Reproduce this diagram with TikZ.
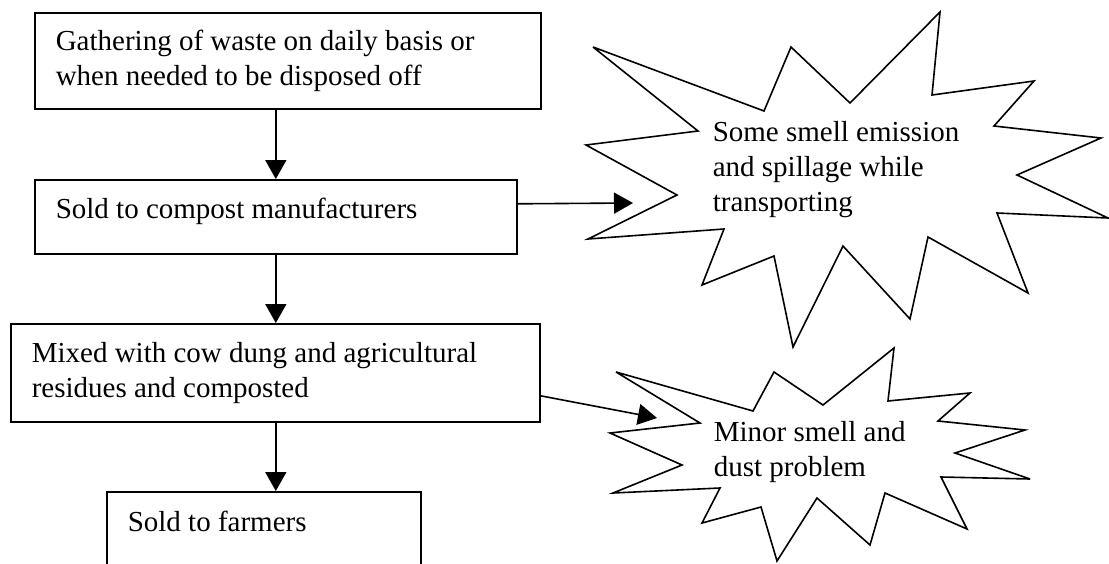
\documentclass[tikz,border=0pt]{standalone}
\usepackage{fontspec}
\setmainfont{Liberation Serif}
\usetikzlibrary{arrows.meta}
\begin{document}
\begin{tikzpicture}[x=1pt,y=-1pt,line width=1.6pt,
  txt/.style={font=\fontsize{29}{35}\selectfont},
  box/.style={txt,draw,anchor=north west,inner xsep=21pt,inner ysep=0pt,align=flush left},
  flow/.style={-{Triangle[length=19pt,width=21pt]}},
  burst/.style={draw,line join=miter,miter limit=6},
  note/.style={txt,anchor=north west,inner sep=0pt,align=flush left}]
\useasboundingbox (0,0) rectangle (1109,563);
\clip (0,0) rectangle (1109,563);
% boxes
\node[box,text width=464pt,minimum height=96pt] (b1) at (34,12)
  {Gathering of waste on daily basis or\\when needed to be disposed off};
\node[box,text width=440pt,text height=39pt,text depth=35pt] (b2) at (34,179)
  {Sold to compost manufacturers};
\node[box,text width=487pt,minimum height=98pt] (b3) at (10,323)
  {Mixed with cow dung and agricultural\\residues and composted};
\node[box,text width=272pt,text height=40pt,text depth=80pt] (b4) at (106,491)
  {Sold to farmers};
% starbursts
\draw[burst] (593,47) -- (764,111) -- (791,47) -- (850,103) -- (940,12) -- (932,95)
  -- (1034,81) -- (994,126) -- (1101,138) -- (1017,175) -- (1108,218) -- (997,213)
  -- (1028,293) -- (928,237) -- (910,319) -- (843,246) -- (793,347) -- (774,256)
  -- (702,285) -- (724,229) -- (588,239) -- (677,195) -- (586,145) -- (698,131) -- cycle;
\draw[burst] (616,372) -- (753,411) -- (774,372) -- (823,405) -- (894,348) -- (888,401)
  -- (970,393) -- (938,421) -- (1025,430) -- (955,453) -- (1030,479) -- (941,477)
  -- (967,529) -- (885,493) -- (870,545) -- (817,498) -- (777,561) -- (761,507)
  -- (702,523) -- (720,488) -- (613,493) -- (682,465) -- (610,433) -- (700,423) -- cycle;
\node[note] (s1) at (712,121) {Some smell emission\\and spillage while\\transporting};
\node[note] (s2) at (713,421) {Minor smell and\\dust problem};
% connectors
\coordinate (e1) at (633,203);
\coordinate (e2) at (657,418);
\draw[flow] (b1.south -| b2.south) -- (b2.north);
\draw[flow] (b2.south) -- (b3.north -| b2.south);
\draw[flow] (b3.south -| b2.south) -- (b4.north -| b2.south);
\draw[flow] ([yshift=13pt]b2.east) -- (e1);
\draw[flow] ([yshift=-23pt]b3.east) -- (e2);
\end{tikzpicture}
\end{document}
